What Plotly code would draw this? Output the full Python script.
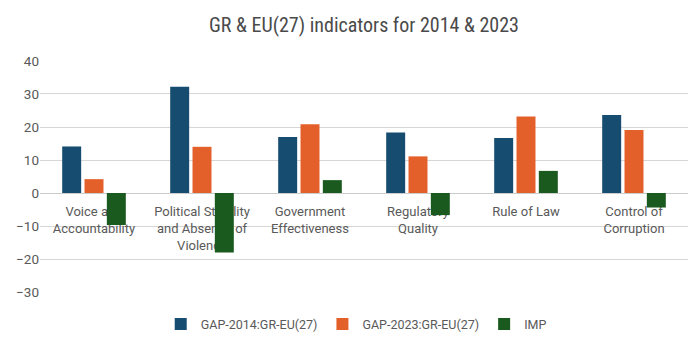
import plotly.graph_objects as go

categories = ["Voice and<br>Accountability",
              "Political Stability<br>and Absence of<br>Violence",
              "Government<br>Effectiveness",
              "Regulatory<br>Quality",
              "Rule of Law",
              "Control of<br>Corruption"]
gap_2014 = [14.1, 32.2, 17.0, 18.3, 16.7, 23.6]
gap_2023 = [4.2, 14.0, 20.8, 11.1, 23.2, 19.1]
imp = [-9.7, -18.0, 3.9, -6.7, 6.7, -4.4]
series_names = ["GAP-2014:GR-EU(27)", "GAP-2023:GR-EU(27)", "IMP"]
colors = ["#154c6f", "#e4602a", "#1a5a1e"]
y_ticks = [40, 30, 20, 10, 0, -10, -20, -30]

fig = go.Figure()
for name, vals, col in zip(series_names, [gap_2014, gap_2023, imp], colors):
    fig.add_trace(go.Bar(x=categories, y=vals, name=name, marker_color=col,
                         marker_line_width=0))

ymin, ymax = -30.3, 40.3
fig.update_layout(
    width=694, height=347,
    margin=dict(l=40, r=6, t=60, b=54),
    paper_bgcolor="white", plot_bgcolor="white",
    font=dict(family="Roboto, Arial, sans-serif", color="#595959", size=13),
    title=dict(text="GR & EU(27) indicators for 2014 & 2023",
               font=dict(family="Liberation Sans Narrow, Roboto Condensed, Roboto, sans-serif",
                         size=20, color="#4a4a4a"),
               x=0.5, xanchor="center", xref="paper", y=1 - 25 / 347, yanchor="middle", yref="container"),
    barmode="group", bargap=0.38, bargroupgap=0.15,
    legend=dict(orientation="h", x=0.488, xanchor="center", y=-0.135, yanchor="middle",
                font=dict(size=12.5, color="#595959"), itemwidth=30, traceorder="normal"),
    showlegend=True,
)
fig.update_yaxes(range=[ymin, ymax], tickvals=y_ticks, showgrid=True, gridcolor="#d6d6d6",
                 gridwidth=1, zeroline=True, zerolinecolor="#cccccc", zerolinewidth=1,
                 showline=False, ticks="", tickfont=dict(size=13.5, color="#595959"))
fig.update_xaxes(anchor="free", position=(0 - ymin) / (ymax - ymin), layer="below traces",
                 showline=False, ticks="", showgrid=False, tickfont=dict(size=13, color="#595959"),
                 ticklabelstandoff=9)
fig.write_html("out.html")
